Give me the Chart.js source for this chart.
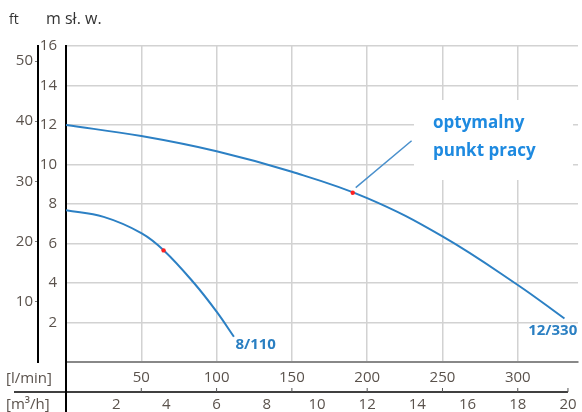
<!DOCTYPE html>
<html>
<head>
<meta charset="utf-8">
<script src="https://cdn.jsdelivr.net/npm/chart.js@4/dist/chart.umd.min.js"></script>
<style>
html,body{margin:0;padding:0;background:#fff;}
canvas{display:block;}
</style>
</head>
<body>
<canvas id="c" width="582" height="412" style="width:582px;height:412px"></canvas>
<script>
// ---- data ----
const flow12 = [0, 50, 100, 150, 200, 250, 300, 331];
const head12 = [12.0, 11.44, 10.67, 9.63, 8.3, 6.36, 3.9, 2.2];
const flow8 = [0, 25, 50, 65, 85, 100, 111.5];
const head8 = [7.68, 7.35, 6.53, 5.65, 4.0, 2.55, 1.28];
const opFlow = [64.8, 190.4];
const opHead = [5.65, 8.57];
const leaderFlow = [192.4, 229.5];
const leaderHead = [8.83, 11.2];
const curveNames = ['8/110', '12/330'];
const curveLabelFlow = [112.5, 339.5];
const curveLabelHead = [0.86, 1.57];
const annotationText = ['optymalny', 'punkt pracy'];
const lminTicks = [50, 100, 150, 200, 250, 300];
const m3hTicks = [2, 4, 6, 8, 10, 12, 14, 16, 18, 20];
const mTicks = [2, 4, 6, 8, 10, 12, 14, 16];
const ftTicks = [10, 20, 30, 40, 50];
const xMaxLmin = 340;
const yMaxM = 16;

const pts = (xs, ys) => xs.map((x, i) => ({x: x, y: ys[i]}));
const TICK_FONT = {family: 'Open Sans', size: 15};
const TICK_COLOR = '#5a524c';
const BLUE = '#2c80c4';

const extras = {
  id: 'extras',
  beforeDatasetsDraw(chart) {
    const ctx = chart.ctx;
    ctx.save();
    ctx.fillStyle = '#ffffff';
    ctx.fillRect(414, 100, 159, 80);
    ctx.restore();
  },
  afterDraw(chart) {
    const ctx = chart.ctx;
    const x = chart.scales.x, y = chart.scales.y, x2 = chart.scales.x2;
    const ca = chart.chartArea;
    ctx.save();
    // header
    ctx.fillStyle = '#333';
    ctx.textBaseline = 'alphabetic';
    ctx.textAlign = 'left';
    ctx.font = '14px "Open Sans"';
    ctx.fillText('ft', 9, 24);
    ctx.font = '16px "Open Sans"';
    ctx.fillText('m sł. w.', 46, 24);
    // row labels
    ctx.fillStyle = TICK_COLOR;
    ctx.font = '15px "Open Sans"';
    ctx.textBaseline = 'middle';
    ctx.fillText('[l/min]', 6, 379);
    ctx.fillText('[m³/h]', 6, 405);
    // left border extension
    ctx.strokeStyle = '#000';
    ctx.lineWidth = 2;
    ctx.beginPath();
    ctx.moveTo(ca.left, ca.bottom);
    ctx.lineTo(ca.left, 412);
    ctx.stroke();
    // separator line between rows
    const sepY = x2.top;
    const endX = x2.getPixelForValue(m3hTicks[m3hTicks.length - 1]);
    ctx.lineWidth = 1.5;
    ctx.beginPath();
    ctx.moveTo(14, sepY);
    ctx.lineTo(endX, sepY);
    ctx.stroke();
    ctx.lineWidth = 1;
    ctx.strokeStyle = '#555';
    ctx.beginPath();
    lminTicks.forEach(v => {
      const px = x.getPixelForValue(v);
      ctx.moveTo(px, sepY - 4);
      ctx.lineTo(px, sepY);
    });
    ctx.moveTo(endX, sepY - 4);
    ctx.lineTo(endX, sepY);
    ctx.stroke();
    // curve labels
    ctx.fillStyle = '#2a7fc2';
    ctx.font = 'bold 15px "Open Sans"';
    ctx.textBaseline = 'middle';
    ctx.textAlign = 'left';
    ctx.fillText(curveNames[0], x.getPixelForValue(curveLabelFlow[0]), y.getPixelForValue(curveLabelHead[0]));
    ctx.textAlign = 'right';
    ctx.fillText(curveNames[1], x.getPixelForValue(curveLabelFlow[1]), y.getPixelForValue(curveLabelHead[1]));
    // annotation
    ctx.fillStyle = '#1e8ae0';
    ctx.font = 'bold 17px "Open Sans"';
    ctx.textAlign = 'left';
    ctx.textBaseline = 'alphabetic';
    ctx.fillText(annotationText[0], 433, 128);
    ctx.fillText(annotationText[1], 433, 156);
    ctx.restore();
  }
};

new Chart(document.getElementById('c'), {
  type: 'line',
  data: {
    datasets: [
      {data: pts(opFlow, opHead), showLine: false, pointRadius: 2.2, pointBorderWidth: 0, pointBackgroundColor: '#ff2020', xAxisID: 'x', yAxisID: 'y'},
      {data: pts(flow8, head8), borderColor: BLUE, borderWidth: 2, pointRadius: 0, tension: 0.4, xAxisID: 'x', yAxisID: 'y'},
      {data: pts(flow12, head12), borderColor: BLUE, borderWidth: 2, pointRadius: 0, tension: 0.4, xAxisID: 'x', yAxisID: 'y'},
      {data: pts(leaderFlow, leaderHead), borderColor: '#4a90cc', borderWidth: 1.5, pointRadius: 0, xAxisID: 'x', yAxisID: 'y'}
    ]
  },
  options: {
    responsive: false,
    animation: false,
    devicePixelRatio: 1,
    layout: {padding: {top: 46, right: 2, bottom: 0, left: 0}},
    plugins: {legend: {display: false}, tooltip: {enabled: false}},
    scales: {
      x: {
        type: 'linear', position: 'bottom', min: 0, max: xMaxLmin, weight: 0,
        afterBuildTicks: s => { s.ticks = lminTicks.map(v => ({value: v})); },
        afterFit: s => { s.height = 30; },
        grid: {color: '#d2d2d2', lineWidth: 1.5, drawTicks: false},
        border: {color: '#888', width: 2},
        ticks: {font: TICK_FONT, color: TICK_COLOR, padding: 7, maxRotation: 0, autoSkip: false}
      },
      x2: {
        type: 'linear', position: 'bottom', min: 0, max: xMaxLmin * 0.06, weight: 1,
        afterBuildTicks: s => { s.ticks = m3hTicks.map(v => ({value: v})); },
        afterFit: s => { s.height = 20; },
        grid: {display: false, drawTicks: false},
        border: {display: false},
        ticks: {font: TICK_FONT, color: TICK_COLOR, padding: 4, maxRotation: 0, autoSkip: false}
      },
      y: {
        type: 'linear', position: 'left', min: 0, max: yMaxM, weight: 0,
        afterBuildTicks: s => { s.ticks = mTicks.map(v => ({value: v})); },
        afterFit: s => { s.width = 28; },
        grid: {color: '#d2d2d2', lineWidth: 1.5, drawTicks: false},
        border: {color: '#000', width: 2},
        ticks: {font: TICK_FONT, color: TICK_COLOR, padding: 9, autoSkip: false}
      },
      y2: {
        type: 'linear', position: 'left', min: 0, max: yMaxM / 0.3048, weight: 1,
        afterBuildTicks: s => { s.ticks = ftTicks.map(v => ({value: v})); },
        afterFit: s => { s.width = 38; },
        grid: {drawOnChartArea: false, drawTicks: true, tickLength: 3, color: '#777', lineWidth: 1},
        border: {color: '#000', width: 2},
        ticks: {font: TICK_FONT, color: TICK_COLOR, padding: 2, autoSkip: false}
      }
    }
  },
  plugins: [extras]
});
</script>
</body>
</html>
